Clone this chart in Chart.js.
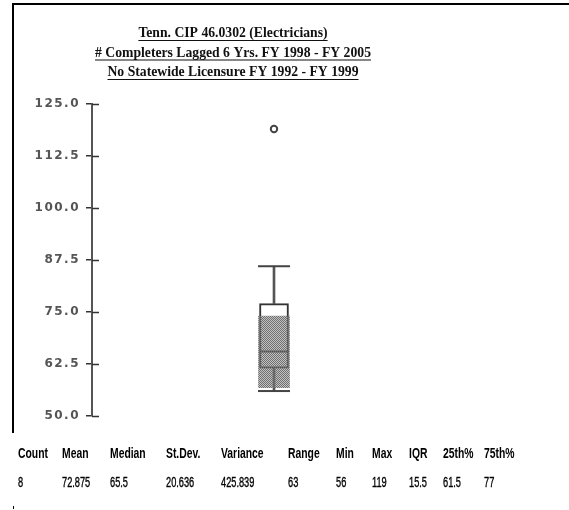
<!DOCTYPE html>
<html>
<head>
<meta charset="utf-8">
<script src="https://cdn.jsdelivr.net/npm/chart.js@4.4.0/dist/chart.umd.min.js"></script>
<style>
  html, body { margin: 0; padding: 0; background: #fff; }
  #chart { display: block; }
</style>
</head>
<body>
<canvas id="chart" width="569" height="510"></canvas>
<script>
// Heading, three underlined lines
const titleLines = [
    'Tenn. CIP 46.0302 (Electricians)',
    '# Completers Lagged 6 Yrs. FY 1998 - FY 2005',
    'No Statewide Licensure FY 1992 - FY 1999'
];

// Box plot pieces (one program)
const categories = ['46.0302'];
const whiskerLow = [56];
const quartile1 = [61.5];
const medians = [65.5];
const quartile3 = [77];
const whiskerHigh = [86];
const outliers = [119];
const shadeLow = [56.8];
const shadeHigh = [74];

// Y axis ticks
const yTicks = [50, 62.5, 75, 87.5, 100, 112.5, 125];

// Summary row under the plot
const statNames = ['Count', 'Mean', 'Median', 'St.Dev.', 'Variance', 'Range', 'Min', 'Max', 'IQR', '25th%', '75th%'];
const statValues = ['8', '72.875', '65.5', '20.636', '425.839', '63', '56', '119', '15.5', '61.5', '77'];
const statColumns = [18, 62, 110, 166, 221, 288, 336, 372, 409, 443, 484];

const ctx = document.getElementById('chart').getContext('2d');

// dithered gray fill
function stipple() {
    const c = document.createElement('canvas');
    c.width = 2; c.height = 2;
    const g = c.getContext('2d');
    g.fillStyle = '#707070';
    g.fillRect(0, 0, 1, 1); g.fillRect(1, 1, 1, 1);
    g.fillStyle = 'rgba(120,120,120,0.45)';
    g.fillRect(1, 0, 1, 1); g.fillRect(0, 1, 1, 1);
    return ctx.createPattern(c, 'repeat');
}

const decor = {
    id: 'decor',
    beforeDraw(chart) {
        // wide spacing for the axis numbers
        chart.ctx.letterSpacing = '1.5px';
    },
    afterDraw(chart) {
        const c = chart.ctx;
        const y = chart.scales.y;
        const left = chart.chartArea.left;
        c.letterSpacing = '0px';
        c.save();

        // frame
        c.fillStyle = '#000';
        c.fillRect(12, 3, 557, 2);
        c.fillRect(12, 3, 2, 430);
        c.fillRect(13, 506, 1, 3);

        // tick marks on the right side of the axis
        c.strokeStyle = '#333';
        c.lineWidth = 1.5;
        yTicks.forEach(v => {
            const py = Math.round(y.getPixelForValue(v)) + 0.5;
            c.beginPath();
            c.moveTo(left, py);
            c.lineTo(left + 7, py);
            c.stroke();
        });

        // title
        c.fillStyle = '#111';
        c.strokeStyle = '#111';
        c.lineWidth = 1.2;
        c.font = 'bold 13.7px "Liberation Serif"';
        c.textAlign = 'center';
        c.textBaseline = 'alphabetic';
        titleLines.forEach((t, i) => {
            const by = 37 + i * 19.5;
            c.fillText(t, 233, by);
            const w = c.measureText(t).width;
            c.beginPath();
            c.moveTo(233 - w / 2, by + 3.5);
            c.lineTo(233 + w / 2, by + 3.5);
            c.stroke();
        });

        // stats table
        c.textAlign = 'left';
        c.fillStyle = '#000';
        statNames.forEach((s, i) => {
            c.save();
            c.translate(statColumns[i], 458);
            c.scale(0.74, 1);
            c.font = 'bold 14px "Liberation Sans"';
            c.fillText(s, 0, 0);
            c.restore();
        });
        c.strokeStyle = '#000';
        c.lineWidth = 0.35;
        statValues.forEach((s, i) => {
            c.save();
            c.translate(statColumns[i], 487);
            c.scale(0.66, 1);
            c.font = '14px "Liberation Sans"';
            c.fillText(s, 0, 0);
            c.strokeText(s, 0, 0);
            c.restore();
        });
        c.restore();
    }
};

const shade = stipple();

new Chart(ctx, {
    type: 'bar',
    data: {
        labels: categories,
        datasets: [
            {
                type: 'line',
                label: 'outliers',
                data: outliers.map(v => ({ x: categories[0], y: v })),
                showLine: false,
                pointStyle: 'circle',
                pointRadius: 3.2,
                pointBorderWidth: 2,
                pointBorderColor: '#444',
                pointBackgroundColor: '#fff',
                order: 0
            },
            {
                label: 'shade',
                data: categories.map((c, i) => [shadeLow[i], shadeHigh[i]]),
                backgroundColor: shade,
                borderWidth: 0,
                barThickness: 31,
                grouped: false,
                order: 1
            },
            {
                type: 'line',
                label: 'median',
                data: medians,
                showLine: false,
                pointStyle: 'line',
                pointRadius: 14.5,
                pointBorderWidth: 2,
                pointBorderColor: '#333',
                order: 2
            },
            {
                type: 'line',
                label: 'caps',
                data: categories.flatMap((c, i) => [{ x: c, y: whiskerLow[i] }, { x: c, y: whiskerHigh[i] }]),
                showLine: false,
                pointStyle: 'line',
                pointRadius: 16,
                pointBorderWidth: 2,
                pointBorderColor: '#444',
                order: 2
            },
            {
                label: 'upper whisker',
                data: categories.map((c, i) => [quartile3[i], whiskerHigh[i]]),
                backgroundColor: '#555',
                borderWidth: 0,
                barThickness: 2,
                grouped: false,
                order: 3
            },
            {
                label: 'lower whisker',
                data: categories.map((c, i) => [whiskerLow[i], quartile1[i]]),
                backgroundColor: '#555',
                borderWidth: 0,
                barThickness: 2,
                grouped: false,
                order: 3
            },
            {
                label: 'box',
                data: categories.map((c, i) => [quartile1[i], quartile3[i]]),
                backgroundColor: '#fff',
                borderColor: '#333',
                borderWidth: 2,
                borderSkipped: false,
                barThickness: 29,
                grouped: false,
                order: 4
            }
        ]
    },
    options: {
        responsive: false,
        animation: false,
        devicePixelRatio: 1,
        layout: { padding: { top: 104, bottom: 94, left: 0, right: 113 } },
        plugins: {
            legend: { display: false },
            tooltip: { enabled: false },
            title: { display: false }
        },
        scales: {
            x: { display: false, offset: true },
            y: {
                min: 50,
                max: 125,
                afterFit(scale) { scale.width = 92; },
                afterBuildTicks(scale) { scale.ticks = yTicks.map(v => ({ value: v })); },
                border: { display: true, color: '#555', width: 2 },
                grid: { drawOnChartArea: false, drawTicks: true, tickLength: 6, color: '#333', lineWidth: 1.5 },
                ticks: {
                    padding: 6,
                    color: '#555',
                    font: { family: 'DejaVu Sans', size: 12, weight: 'bold' },
                    callback: v => Number(v).toFixed(1)
                }
            }
        }
    },
    plugins: [decor]
});
</script>
</body>
</html>
